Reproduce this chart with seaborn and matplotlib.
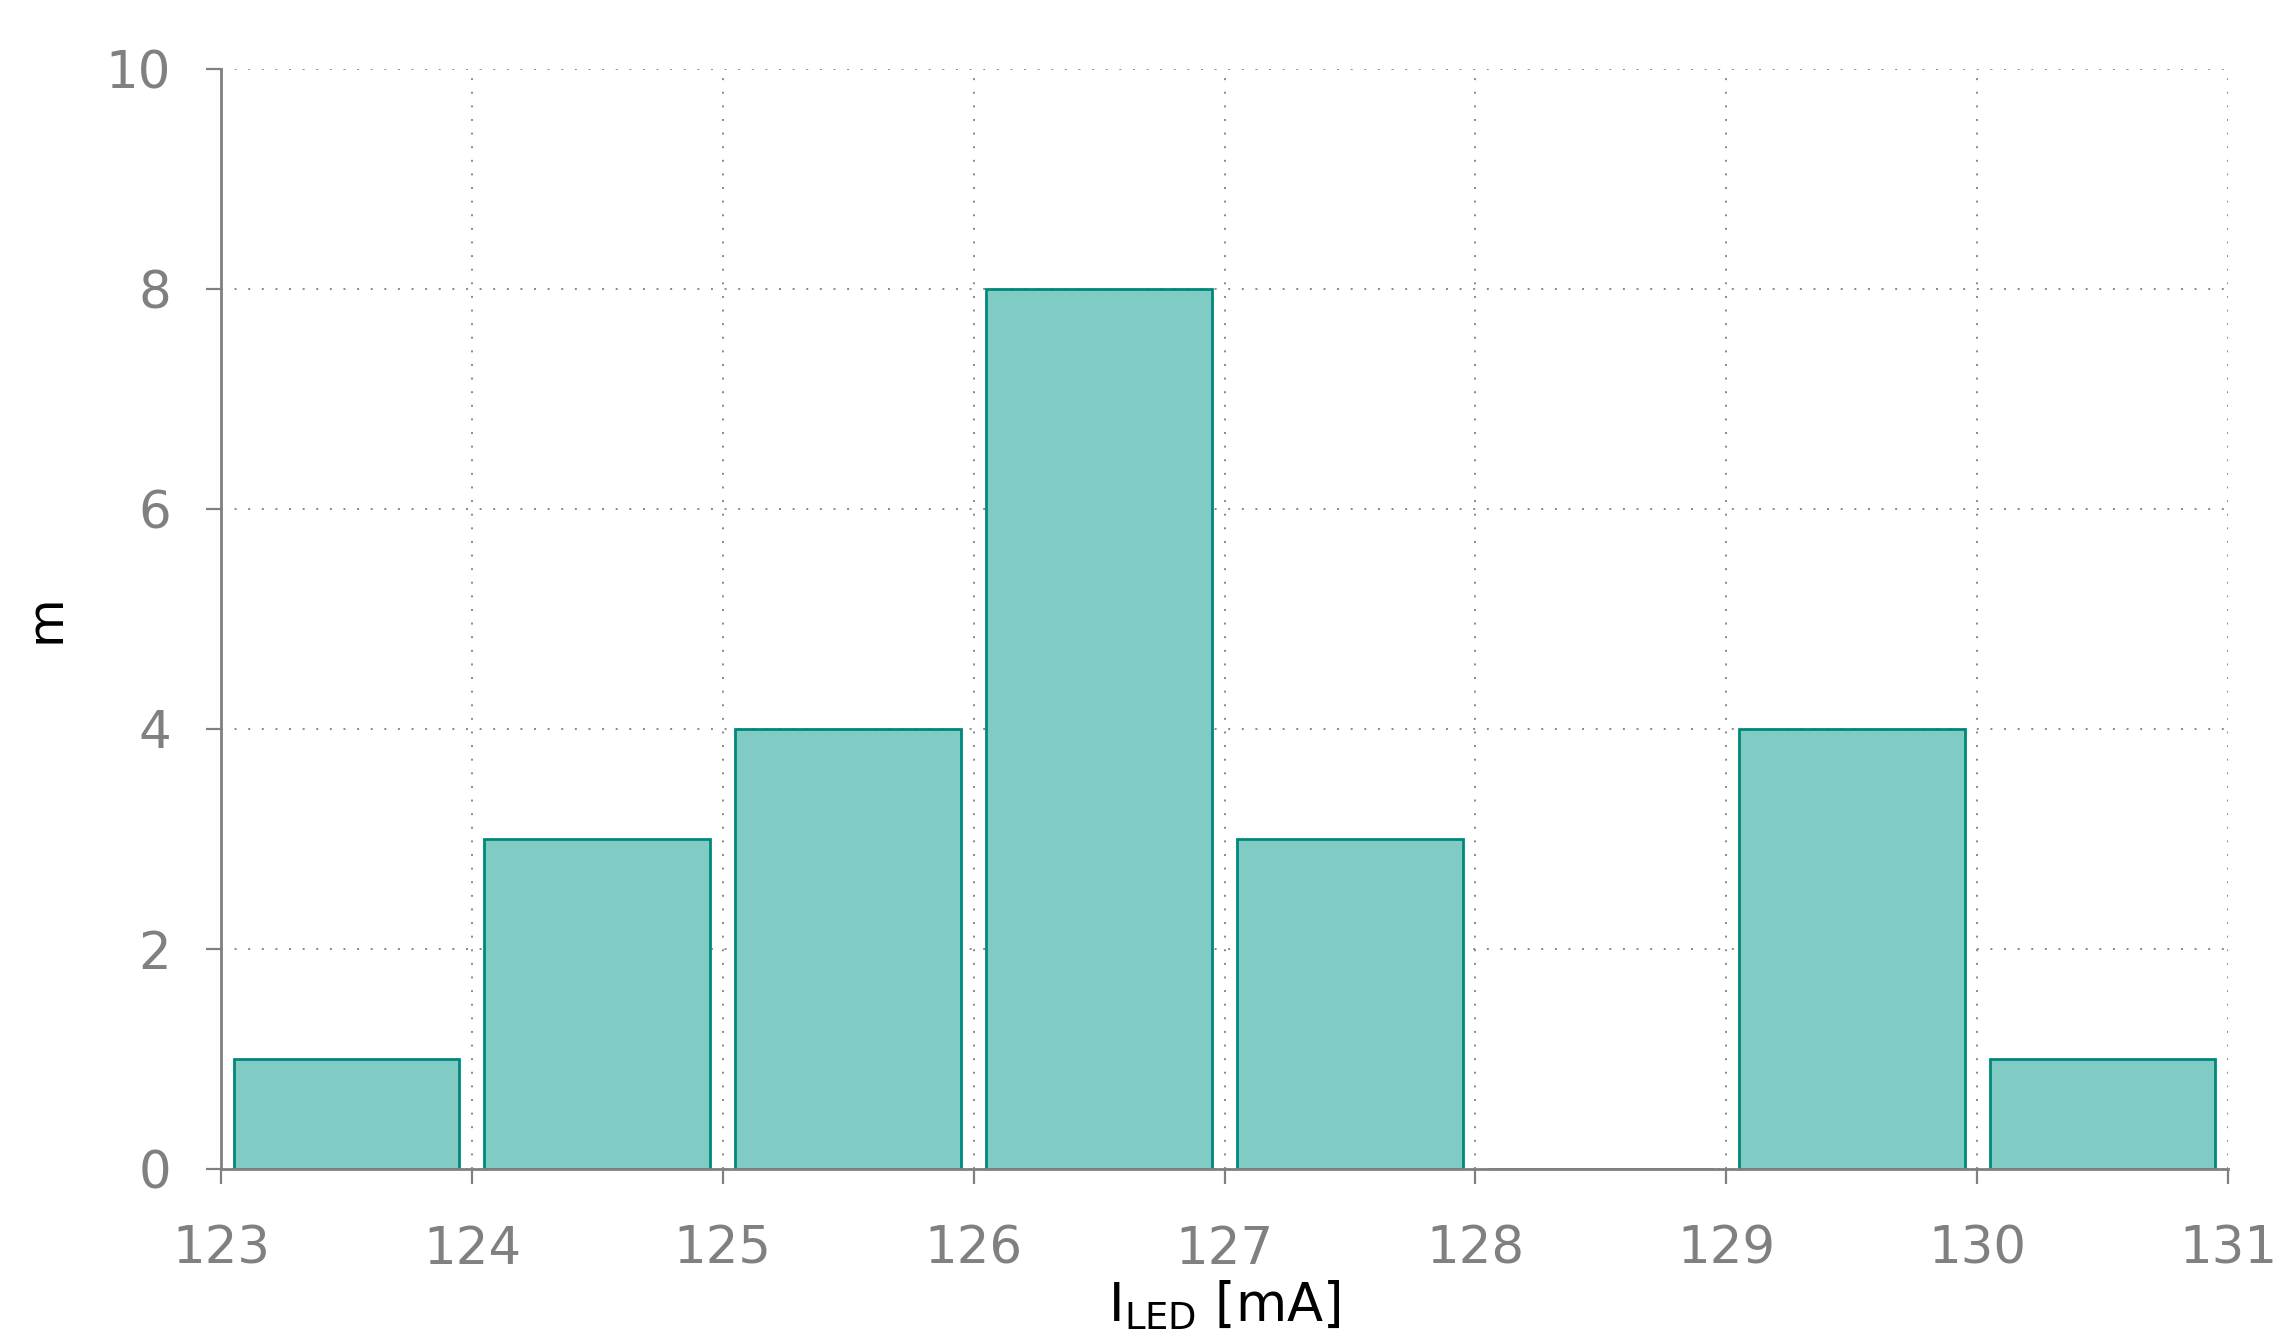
import numpy as np
import pandas as pd
import matplotlib
matplotlib.use("Agg")
import matplotlib.pyplot as plt
import seaborn as sns

# ===== 数据：LED 电流直方图（每个 1 mA 区间的计数） =====
bin_starts = [123, 124, 125, 126, 127, 128, 129, 130]
counts = [1, 3, 4, 8, 3, 0, 4, 1]
x_ticks = [123, 124, 125, 126, 127, 128, 129, 130, 131]
y_ticks = [0, 2, 4, 6, 8, 10]

df = pd.DataFrame({"I": np.array(bin_starts) + 0.5, "n": counts})

sns.set_style("white")
plt.rcParams['font.family'] = ['DejaVu Sans']

fig = plt.figure(figsize=(22.91, 13.31), dpi=100)
ax = fig.add_axes([0.0965, 0.1217, 0.876, 0.8265])

# 网格（点线）放在柱子后面
ax.set_axisbelow(True)
ax.grid(True, color="#888888", linestyle=(0, (1, 6)), linewidth=1.4)

sns.histplot(data=df, x="I", weights="n", bins=x_ticks, shrink=0.9,
             color="#80cbc4", edgecolor="#00897b", linewidth=2, alpha=1, ax=ax)

ax.set_xlim(123, 131)
ax.set_ylim(0, 10)
ax.set_xticks(x_ticks)
ax.set_yticks(y_ticks)

for s in ["top", "right"]:
    ax.spines[s].set_visible(False)
for s in ["left", "bottom"]:
    ax.spines[s].set_color("#808080")
    ax.spines[s].set_linewidth(2.0)
    ax.spines[s].set_zorder(3)

ax.tick_params(axis="both", direction="out", length=11, width=1.6,
               bottom=True, left=True,
               color="#808080", labelcolor="#808080", labelsize=37)
ax.tick_params(axis="x", pad=29)
ax.tick_params(axis="y", pad=25)

ax.set_xlabel(r"$\mathregular{I_{LED}}$ [mA]", fontsize=38, color="black", labelpad=3)
ax.set_ylabel("m", fontsize=36, color="black", labelpad=26)

fig.savefig("out.png", dpi=100)
